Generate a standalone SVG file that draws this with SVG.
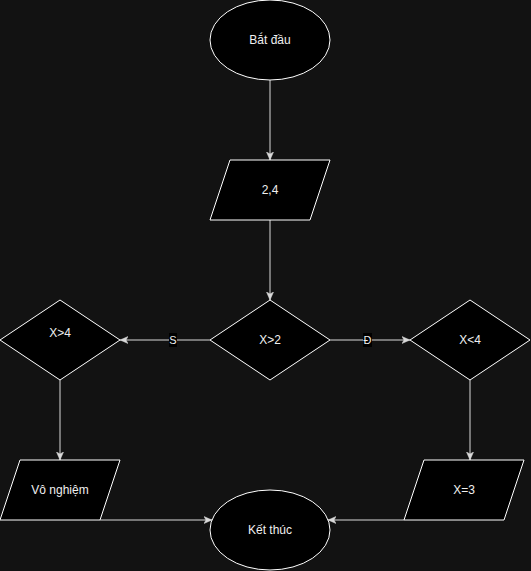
<svg xmlns="http://www.w3.org/2000/svg" width="531" height="571" viewBox="0 0 531 571">
  <style>
    .shape { fill: #000000; stroke: #ffffff; stroke-width: 1; }
    .label { fill: #f0f0f0; font-family: "Liberation Sans", Arial, sans-serif; font-size: 12px; text-anchor: middle; dominant-baseline: central; }
    .edge { fill: none; stroke: #d9d9d9; stroke-width: 1; }
    .elabel { fill: #f0f0f0; font-family: "Liberation Sans", Arial, sans-serif; font-size: 11px; text-anchor: middle; dominant-baseline: central; }
  </style>
  <defs>
    <marker id="arrow" viewBox="0 0 8 8" refX="8" refY="4" markerWidth="8" markerHeight="8" markerUnits="userSpaceOnUse" orient="auto">
      <path d="M0,0.5 L8,4 L0,7.5 L2,4 Z" fill="#d9d9d9" stroke="#d9d9d9" stroke-width="0.5"/>
    </marker>
  </defs>

  <rect x="0" y="0" width="531" height="571" fill="#121212"/>

  <g id="connectors">
    <path class="edge" d="M270,80 L270,160" marker-end="url(#arrow)"/>
    <path class="edge" d="M270,220 L270,300" marker-end="url(#arrow)"/>
    <path class="edge" d="M210,340 L120,340" marker-end="url(#arrow)"/>
    <path class="edge" d="M330,340 L410,340" marker-end="url(#arrow)"/>
    <path class="edge" d="M60,380 L60,460" marker-end="url(#arrow)"/>
    <path class="edge" d="M470,380 L470,460" marker-end="url(#arrow)"/>
    <path class="edge" d="M100,520 L212,520" marker-end="url(#arrow)"/>
    <path class="edge" d="M404,520 L328,520" marker-end="url(#arrow)"/>
    <g id="edge-label-s">
      <rect x="169" y="333" width="8" height="14" fill="#000000"/>
      <text class="elabel" x="173" y="340">S</text>
    </g>
    <g id="edge-label-d">
      <rect x="363" y="333" width="9" height="14" fill="#000000"/>
      <text class="elabel" x="367.5" y="340">Đ</text>
    </g>
  </g>

  <g id="start">
    <ellipse class="shape" cx="270" cy="40" rx="60" ry="40"/>
    <text class="label" x="270" y="40">Bắt đầu</text>
  </g>

  <g id="input">
    <polygon class="shape" points="230,160 330,160 310,220 210,220"/>
    <text class="label" x="270" y="190">2,4</text>
  </g>

  <g id="check-gt2">
    <polygon class="shape" points="270,300 330,340 270,380 210,340"/>
    <text class="label" x="270" y="340">X&gt;2</text>
  </g>

  <g id="check-gt4">
    <polygon class="shape" points="60,300 120,340 60,380 0,340"/>
    <text class="label" x="60" y="333">X&gt;4</text>
  </g>

  <g id="check-lt4">
    <polygon class="shape" points="470,300 530,340 470,380 410,340"/>
    <text class="label" x="470" y="340">X&lt;4</text>
  </g>

  <g id="no-solution">
    <polygon class="shape" points="20,460 120,460 100,520 0,520"/>
    <text class="label" x="60" y="490">Vô nghiệm</text>
  </g>

  <g id="result">
    <polygon class="shape" points="424,460 524,460 504,520 404,520"/>
    <text class="label" x="464" y="490">X=3</text>
  </g>

  <g id="end">
    <ellipse class="shape" cx="270" cy="530" rx="60" ry="40"/>
    <text class="label" x="270" y="530">Kết thúc</text>
  </g>
</svg>
